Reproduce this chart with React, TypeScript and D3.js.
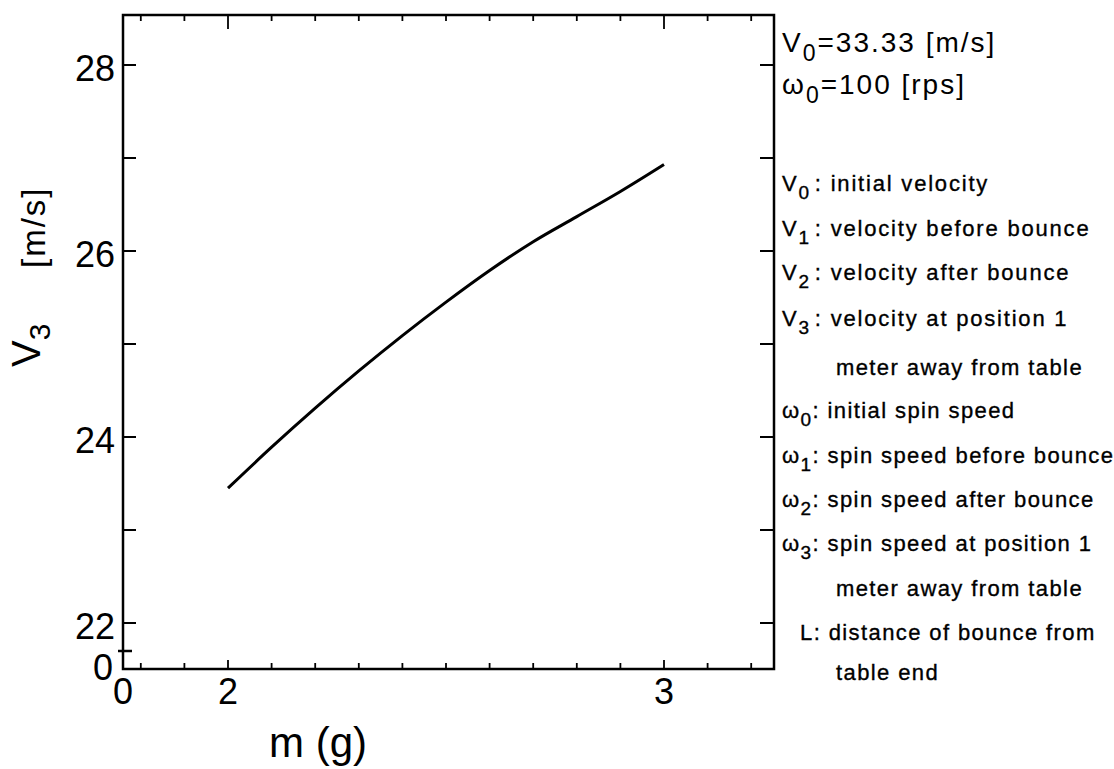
import React, { useEffect, useRef } from 'react';
import * as d3 from 'd3';

// curve: V3 against ball mass
const massG = [2.0, 2.1, 2.2, 2.3, 2.4, 2.5, 2.6, 2.7, 2.8, 2.9, 3.0];
const v3 = [23.45, 23.89, 24.31, 24.71, 25.09, 25.45, 25.79, 26.1, 26.37, 26.64, 26.93];

const yTicks = [22, 23, 24, 25, 26, 27, 28];
const yLabels = [22, 24, 26, 28];
const xTicks = [1.8, 1.9, 2.0, 2.1, 2.2, 2.3, 2.4, 2.5, 2.6, 2.7, 2.8, 2.9, 3.0, 3.1, 3.2];
const xLabels = [2, 3];

const conditions = [
  { sym: 'V', sub: '0', text: '=33.33 [m/s]' },
  { sym: '\u03c9', sub: '0', text: '=100 [rps]' },
];

const legendSym = ['V', 'V', 'V', 'V', '', '\u03c9', '\u03c9', '\u03c9', '\u03c9', '', 'L', ''];
const legendSub = ['0', '1', '2', '3', '', '0', '1', '2', '3', '', '', ''];
const legendText = [
  ': initial velocity',
  ': velocity before bounce',
  ': velocity after bounce',
  ': velocity at position 1',
  'meter away from table',
  ': initial spin speed',
  ': spin speed before bounce',
  ': spin speed after bounce',
  ': spin speed at position 1',
  'meter away from table',
  ':  distance of bounce from',
  'table end',
];

export default function App() {
  const ref = useRef<SVGSVGElement>(null);

  useEffect(() => {
    const width = 1114;
    const height = 769;
    const left = 123, right = 774, top = 15, bottom = 669;
    const font = '"Liberation Sans", Arial, sans-serif';

    const svg = d3.select(ref.current);
    svg.selectAll('*').remove();
    svg.attr('width', width).attr('height', height);

    const x = d3.scaleLinear().domain([2, 3]).range([228, 664]);
    const y = d3.scaleLinear().domain([24, 26]).range([437, 251]);

    // frame
    svg.append('rect')
      .attr('x', left).attr('y', top)
      .attr('width', right - left).attr('height', bottom - top)
      .attr('fill', 'none').attr('stroke', '#000').attr('stroke-width', 2.5);

    // y ticks on both sides, pointing in
    yTicks.forEach(v => {
      svg.append('line').attr('x1', left).attr('x2', left + 13)
        .attr('y1', y(v)).attr('y2', y(v)).attr('stroke', '#000').attr('stroke-width', 2);
      svg.append('line').attr('x1', right).attr('x2', right - 14)
        .attr('y1', y(v)).attr('y2', y(v)).attr('stroke', '#000').attr('stroke-width', 2);
    });
    // axis break mark near the origin
    svg.append('line').attr('x1', left - 5).attr('x2', left + 9)
      .attr('y1', 651).attr('y2', 651).attr('stroke', '#000').attr('stroke-width', 2.5);

    svg.selectAll('text.ylab')
      .data(yLabels)
      .enter()
      .append('text')
      .attr('x', 115)
      .attr('y', d => y(d) + 16)
      .attr('text-anchor', 'end')
      .style('font-family', font)
      .style('font-size', '36px')
      .text(d => d);

    // x ticks, bottom and top
    xTicks.forEach(v => {
      const major = Math.abs(v - Math.round(v)) < 1e-6;
      svg.append('line').attr('x1', x(v)).attr('x2', x(v))
        .attr('y1', bottom).attr('y2', bottom - (major ? 9 : 6))
        .attr('stroke', '#000').attr('stroke-width', 1.8);
      svg.append('line').attr('x1', x(v)).attr('x2', x(v))
        .attr('y1', top).attr('y2', top + (major ? 14 : 6))
        .attr('stroke', '#000').attr('stroke-width', 1.8);
    });

    svg.selectAll('text.xlab')
      .data(xLabels)
      .enter()
      .append('text')
      .attr('x', d => x(d))
      .attr('y', 704)
      .attr('text-anchor', 'middle')
      .style('font-family', font)
      .style('font-size', '36px')
      .text(d => d);

    // broken-axis origin labels
    svg.append('text').attr('x', left).attr('y', 704).attr('text-anchor', 'middle')
      .style('font-family', font).style('font-size', '36px').text('0');
    svg.append('text').attr('x', 113).attr('y', 680).attr('text-anchor', 'end')
      .style('font-family', font).style('font-size', '36px').text('0');

    // axis titles
    svg.append('text').attr('x', 318).attr('y', 757).attr('text-anchor', 'middle')
      .style('font-family', font).style('font-size', '42px').text('m (g)');

    const yt = svg.append('text')
      .attr('transform', 'translate(40,367) rotate(-90)')
      .style('font-family', font).style('font-size', '40px');
    yt.append('tspan').text('V');
    yt.append('tspan').attr('dy', 10).style('font-size', '30px').text('3');
    svg.append('text')
      .attr('transform', 'translate(45,268) rotate(-90)')
      .style('font-family', font).style('font-size', '33px')
      .style('letter-spacing', '2px')
      .text('[m/s]');

    // curve
    const line = d3.line<number>()
      .x((d, i) => x(massG[i]))
      .y(d => y(d))
      .curve(d3.curveMonotoneX);
    svg.append('path')
      .attr('d', line(v3))
      .attr('fill', 'none')
      .attr('stroke', '#000')
      .attr('stroke-width', 3);

    // conditions at top right
    conditions.forEach((c, i) => {
      const t = svg.append('text')
        .attr('x', 782).attr('y', 52 + i * 42)
        .style('font-family', font).style('font-size', '28px')
        .style('letter-spacing', '2px');
      t.append('tspan').text(c.sym);
      t.append('tspan').attr('dy', 9).style('font-size', '23px').text(c.sub);
      t.append('tspan').attr('dy', -9).text(c.text);
    });

    // symbol legend
    const baselines = [191, 236, 280, 326, 375, 418, 463, 507, 551, 596, 640, 680];
    legendText.forEach((txt, i) => {
      const sym = legendSym[i];
      const indent = sym === '' ? 836 : sym === 'L' ? 800 : 782;
      const t = svg.append('text')
        .attr('x', indent).attr('y', baselines[i])
        .style('font-family', font).style('font-size', '22px')
        .style('letter-spacing', sym === 'V' ? '1.8px' : '1.4px')
        .attr('stroke', '#000').attr('stroke-width', 0.35);
      if (sym !== '') {
        t.append('tspan').text(sym);
        if (legendSub[i] !== '') {
          t.append('tspan').attr('dy', 8).style('font-size', '19px').text(legendSub[i]);
          t.append('tspan').attr('dy', -8).attr('dx', sym === 'V' ? 4 : 0).text(txt);
        } else {
          t.append('tspan').text(txt);
        }
      } else {
        t.text(txt);
      }
    });
  }, []);

  return (
    <svg ref={ref} style={{ position: 'absolute', left: 0, top: 0, background: '#fff' }} />
  );
}
